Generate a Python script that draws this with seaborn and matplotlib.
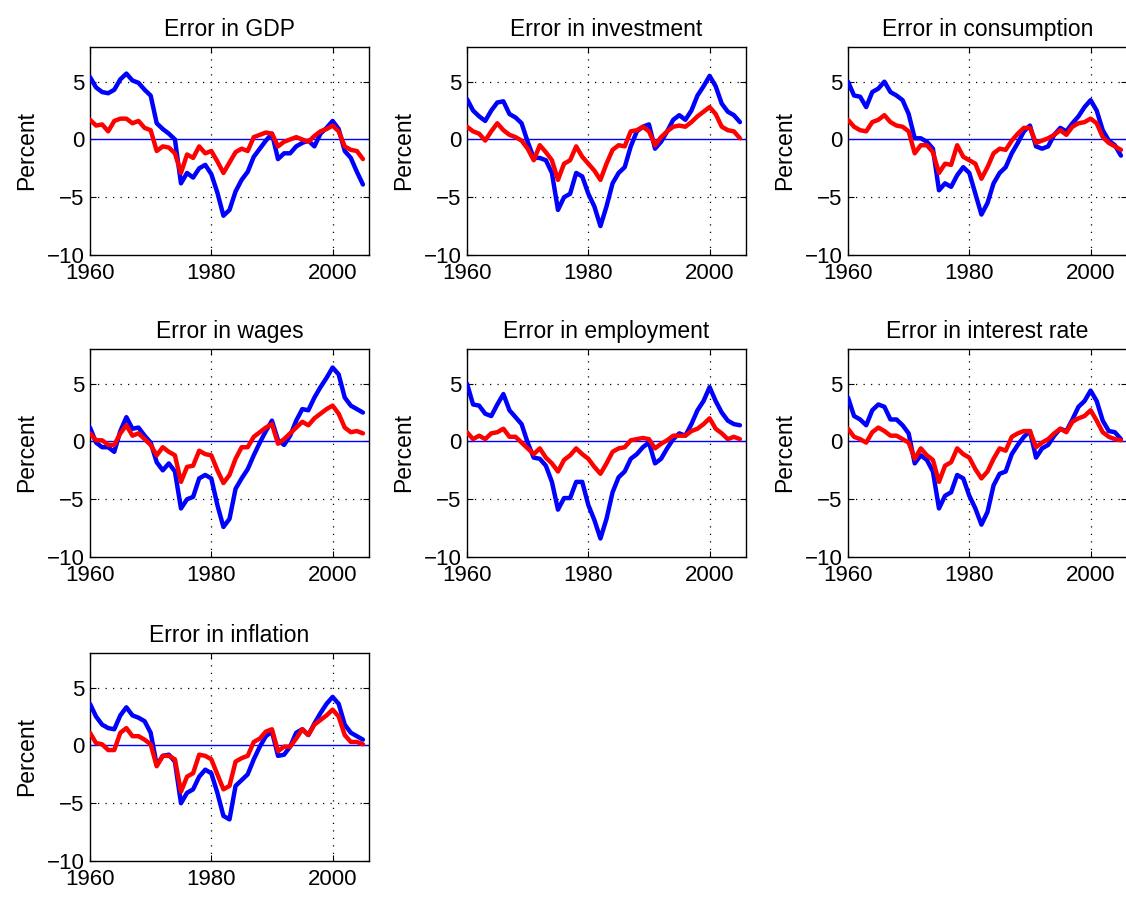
import numpy as np
import pandas as pd
import matplotlib
matplotlib.use("Agg")
import matplotlib.pyplot as plt
import seaborn as sns

# Annual observations, 1960-2005
years = list(range(1960, 2006))

titles = ["Error in GDP", "Error in investment", "Error in consumption",
          "Error in wages", "Error in employment", "Error in interest rate",
          "Error in inflation"]

gdp_blue = [5.4, 4.5, 4.1, 4.0, 4.3, 5.2, 5.7, 5.1, 4.9, 4.3,
            3.8, 1.4, 0.9, 0.5, 0.0, -3.8, -2.9, -3.3, -2.5, -2.2,
            -3.0, -4.6, -6.6, -6.1, -4.5, -3.5, -2.8, -1.5, -0.8, -0.1,
            0.5, -1.7, -1.2, -1.2, -0.6, -0.3, -0.1, -0.6, 0.5, 1.0,
            1.6, 0.9, -1.0, -1.6, -2.8, -3.9]
gdp_red = [1.7, 1.2, 1.3, 0.7, 1.6, 1.8, 1.8, 1.4, 1.6, 1.0,
           0.8, -1.0, -0.6, -0.7, -1.2, -2.9, -1.3, -1.6, -0.6, -1.2,
           -1.0, -1.9, -2.9, -2.0, -1.1, -0.8, -1.0, 0.2, 0.4, 0.6,
           0.5, -0.6, -0.2, 0.0, 0.2, 0.0, -0.2, 0.3, 0.7, 0.9,
           1.2, 0.7, -0.6, -0.9, -1.0, -1.7]

inv_blue = [3.5, 2.5, 2.0, 1.6, 2.5, 3.2, 3.3, 2.2, 1.9, 1.4,
            -0.2, -1.6, -1.6, -1.8, -2.9, -6.1, -5.0, -4.7, -2.9, -3.2,
            -4.7, -5.8, -7.5, -5.8, -3.8, -2.9, -2.4, -0.6, 0.7, 1.1,
            1.3, -0.8, -0.2, 0.7, 1.7, 2.1, 1.7, 2.5, 3.8, 4.6,
            5.5, 4.6, 3.1, 2.4, 2.1, 1.5]
inv_red = [1.1, 0.7, 0.5, -0.1, 0.7, 1.4, 0.8, 0.4, 0.2, -0.1,
           -0.8, -1.8, -0.5, -1.1, -1.8, -3.5, -2.1, -1.8, -0.6, -1.5,
           -2.1, -2.7, -3.5, -2.1, -0.9, -0.5, -0.6, 0.7, 0.8, 1.1,
           0.7, -0.5, 0.2, 0.7, 1.1, 1.2, 1.1, 1.5, 2.0, 2.4,
           2.8, 2.2, 1.1, 0.8, 0.7, 0.1]

cons_blue = [5.0, 3.8, 3.7, 2.8, 4.1, 4.4, 5.0, 4.1, 3.8, 3.4,
             2.2, 0.1, 0.1, -0.2, -0.8, -4.4, -3.8, -4.1, -3.1, -2.4,
             -2.9, -4.7, -6.5, -5.5, -3.8, -2.9, -2.4, -1.2, -0.3, 0.7,
             1.2, -0.6, -0.8, -0.6, 0.4, 1.0, 0.7, 1.4, 2.0, 2.8,
             3.4, 2.5, 0.8, -0.1, -0.5, -1.4]
cons_red = [1.7, 1.1, 0.8, 0.7, 1.5, 1.7, 2.1, 1.5, 1.2, 1.1,
            0.7, -1.2, -0.5, -0.5, -1.1, -2.9, -2.1, -2.2, -0.5, -1.5,
            -1.8, -2.1, -3.4, -2.4, -1.2, -0.8, -0.9, -0.1, 0.5, 1.0,
            1.0, -0.3, -0.1, 0.1, 0.4, 0.8, 0.4, 1.1, 1.4, 1.5,
            1.8, 1.4, 0.2, -0.3, -0.6, -0.9]

wage_blue = [1.2, -0.1, -0.5, -0.5, -0.9, 0.9, 2.1, 1.1, 1.2, 0.5,
             -0.1, -1.8, -2.5, -1.9, -2.6, -5.8, -5.0, -4.8, -3.2, -2.9,
             -3.2, -5.5, -7.4, -6.7, -4.1, -3.2, -2.4, -1.2, -0.1, 0.9,
             1.8, 0.1, -0.3, 0.5, 1.8, 2.8, 2.7, 3.8, 4.7, 5.5,
             6.4, 5.8, 3.8, 3.1, 2.8, 2.5]
wage_red = [0.7, 0.1, 0.1, -0.3, -0.3, 0.7, 1.4, 0.5, 0.7, 0.2,
            -0.3, -1.2, -0.5, -0.9, -1.2, -3.5, -2.2, -2.1, -0.8, -1.1,
            -1.2, -2.5, -3.6, -2.9, -1.5, -0.5, -0.5, 0.4, 0.8, 1.2,
            1.5, -0.2, 0.2, 0.7, 1.2, 1.7, 1.4, 2.0, 2.4, 2.8,
            3.1, 2.4, 1.2, 0.8, 0.9, 0.7]

emp_blue = [5.0, 3.2, 3.1, 2.4, 2.2, 3.2, 4.1, 2.7, 2.1, 1.5,
            -0.1, -1.4, -1.5, -2.1, -3.5, -5.9, -4.9, -4.9, -3.5, -3.5,
            -5.5, -6.8, -8.4, -6.7, -4.4, -3.1, -2.6, -1.5, -1.1, -0.5,
            -0.1, -1.9, -1.5, -0.6, 0.2, 0.7, 0.5, 1.5, 2.7, 3.5,
            4.7, 3.5, 2.5, 1.8, 1.5, 1.4]
emp_red = [0.8, 0.2, 0.5, 0.2, 0.7, 0.8, 1.1, 0.4, 0.4, -0.1,
           -0.6, -1.1, -0.6, -1.4, -1.9, -2.6, -1.6, -1.2, -0.6, -1.1,
           -1.5, -2.2, -2.8, -1.9, -0.9, -0.6, -0.5, 0.1, 0.2, 0.3,
           0.2, -0.6, -0.2, 0.1, 0.5, 0.5, 0.5, 0.9, 1.1, 1.5,
           2.0, 1.1, 0.7, 0.2, 0.4, 0.2]

rate_blue = [3.8, 2.2, 1.9, 1.4, 2.7, 3.2, 3.0, 1.9, 1.9, 1.4,
             0.7, -1.9, -1.2, -1.6, -2.6, -5.8, -4.7, -4.4, -2.9, -3.2,
             -4.7, -5.8, -7.2, -6.1, -3.8, -2.8, -2.6, -1.1, -0.3, 0.4,
             0.9, -1.4, -0.6, -0.3, 0.5, 1.1, 0.9, 1.9, 3.0, 3.5,
             4.4, 3.5, 1.8, 0.9, 0.8, 0.2]
rate_red = [1.1, 0.4, 0.2, -0.1, 0.8, 1.2, 0.9, 0.5, 0.5, 0.2,
            -0.1, -1.5, -0.6, -1.2, -1.6, -3.5, -2.1, -1.8, -0.6, -1.1,
            -1.4, -2.4, -3.2, -2.6, -1.5, -0.6, -0.8, 0.4, 0.7, 0.9,
            0.9, -0.5, -0.1, 0.2, 0.7, 1.1, 0.8, 1.7, 2.0, 2.2,
            2.7, 1.8, 0.8, 0.4, 0.2, 0.1]

infl_blue = [3.6, 2.5, 1.8, 1.5, 1.4, 2.6, 3.3, 2.6, 2.4, 2.1,
             1.1, -1.7, -0.9, -0.8, -1.4, -5.0, -4.1, -3.8, -2.7, -2.1,
             -2.4, -4.1, -6.1, -6.4, -3.5, -3.0, -2.5, -1.2, -0.1, 0.8,
             1.2, -0.9, -0.8, -0.1, 1.1, 1.4, 0.9, 1.9, 2.8, 3.6,
             4.2, 3.6, 1.8, 1.1, 0.8, 0.5]
infl_red = [1.1, 0.2, 0.1, -0.4, -0.4, 1.1, 1.5, 0.8, 0.8, 0.5,
            0.1, -1.8, -0.9, -0.9, -1.2, -4.0, -2.7, -2.4, -0.8, -0.9,
            -1.2, -2.5, -3.8, -3.5, -1.4, -1.1, -0.9, 0.3, 0.6, 1.2,
            1.4, -0.5, -0.1, -0.1, 0.6, 1.4, 0.9, 1.8, 2.2, 2.6,
            3.1, 2.5, 0.9, 0.3, 0.3, 0.1]

blue_series = [gdp_blue, inv_blue, cons_blue, wage_blue, emp_blue, rate_blue, infl_blue]
red_series = [gdp_red, inv_red, cons_red, wage_red, emp_red, rate_red, infl_red]

x_ticks = [1960, 1980, 2000]
y_ticks = [-10, -5, 0, 5]

sns.set_style("ticks")
plt.rcParams["font.family"] = ["Liberation Sans", "DejaVu Sans"]
plt.rcParams["axes.unicode_minus"] = True
for key in ["text.color", "axes.labelcolor", "xtick.color", "ytick.color",
            "axes.edgecolor"]:
    plt.rcParams[key] = "black"

W, H = 1126, 898
fig = plt.figure(figsize=(W / 100, H / 100), dpi=100)

col_left = [90, 467, 848]
row_top = [47, 349, 653]
ax_w, ax_h = 279, 208

for i, title in enumerate(titles):
    r, c = divmod(i, 3)
    left = col_left[c] / W
    bottom = (H - row_top[r] - ax_h) / H
    ax = fig.add_axes([left, bottom, ax_w / W, ax_h / H])

    df = pd.DataFrame({
        "year": years * 2,
        "value": blue_series[i] + red_series[i],
        "series": ["a"] * len(years) + ["b"] * len(years),
    })
    ax.axhline(0, color="#0000ff", lw=1.0, zorder=1)
    sns.lineplot(data=df, x="year", y="value", hue="series",
                 palette={"a": "#0000ff", "b": "#ff0000"},
                 lw=3.2, legend=False, ax=ax, zorder=3)

    ax.set_xlim(1960, 2006)
    ax.set_ylim(-10, 8)
    ax.set_xticks(x_ticks)
    ax.set_yticks(y_ticks)
    ax.set_xlabel("")
    ax.set_ylabel("Percent", fontsize=16.5, labelpad=6, color="black")
    ax.set_title(title, fontsize=16.5, pad=8, color="black")

    for v in [1980, 2000]:
        ax.axvline(v, color="black", lw=0.9, ls=(0, (1, 5)), zorder=0)
    for v in [-5, 5]:
        ax.axhline(v, color="black", lw=0.9, ls=(0, (1, 5)), zorder=0)

    ax.tick_params(direction="in", length=4, width=0.8, labelsize=16,
                   top=True, right=True, colors="black")
    ax.tick_params(axis="x", pad=6)
    ax.tick_params(axis="y", pad=4)
    for s in ax.spines.values():
        s.set_visible(True)
        s.set_color("black")
        s.set_linewidth(1.0)

fig.savefig("out.png", dpi=100, facecolor="white")
